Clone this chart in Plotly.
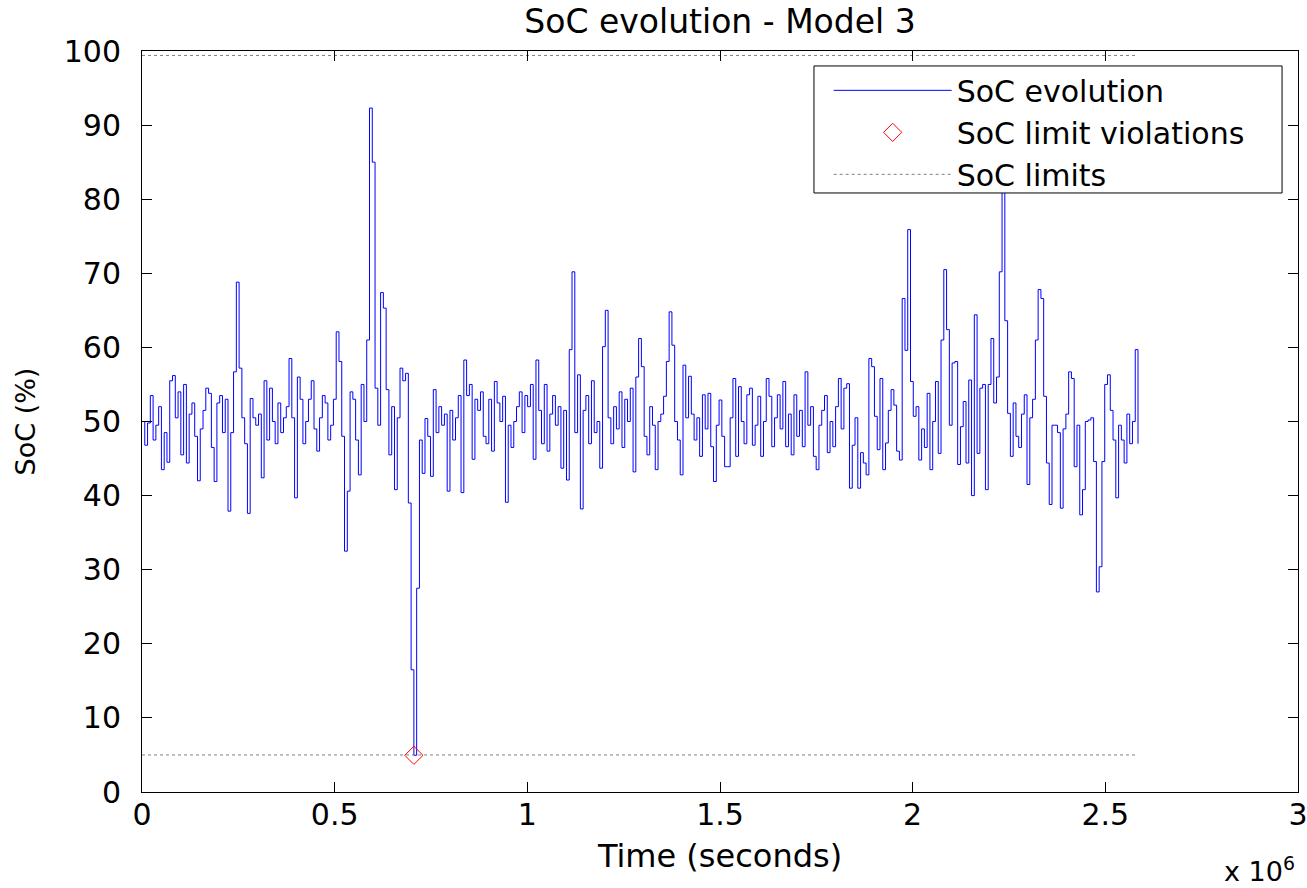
import plotly.graph_objects as go

# SoC samples, one every 2 hours
STEP_S = 7200
soc = [
    50.0, 46.8, 49.8, 53.5, 47.5, 49.5, 52.0, 43.5, 48.5, 44.5,
    55.5, 56.2, 50.5, 54.0, 45.5, 55.0, 44.4, 51.0, 52.5, 48.0,
    42.0, 49.0, 51.5, 54.5, 53.8, 46.5, 41.9, 52.5, 53.5, 48.5,
    53.0, 37.9, 48.5, 56.7, 68.8, 57.2, 50.5, 47.0, 37.6, 53.1,
    50.5, 49.5, 51.0, 42.4, 55.5, 47.5, 54.5, 50.0, 47.0, 52.5,
    48.5, 50.5, 52.0, 58.5, 50.5, 39.7, 56.0, 53.0, 47.0, 50.0,
    53.0, 55.5, 49.0, 46.0, 50.5, 53.5, 52.5, 47.5, 49.5, 53.0,
    62.1, 58.1, 48.0, 32.5, 40.6, 54.0, 53.0, 47.5, 42.8, 55.0,
    50.0, 61.0, 92.3, 85.0, 54.5, 49.5, 67.4, 65.3, 54.3, 45.5,
    52.0, 40.8, 50.5, 57.2, 55.5, 56.5, 39.0, 16.5, 4.95, 27.5,
    47.5, 43.0, 50.4, 48.0, 42.6, 54.3, 48.5, 52.0, 49.5, 51.0,
    40.6, 51.5, 47.5, 50.5, 53.5, 40.4, 58.3, 53.5, 55.0, 44.9,
    53.0, 51.5, 54.0, 48.0, 47.0, 53.0, 46.0, 55.4, 52.5, 50.0,
    53.4, 39.1, 49.5, 46.5, 50.0, 52.0, 54.0, 48.5, 53.5, 52.0,
    55.0, 44.9, 58.3, 51.5, 47.0, 55.0, 46.0, 51.0, 53.5, 49.5,
    52.0, 43.7, 51.5, 42.1, 59.7, 70.2, 48.5, 56.3, 38.2, 51.5,
    53.5, 47.0, 55.5, 48.5, 50.0, 43.7, 60.1, 65.0, 50.5, 47.0,
    52.0, 49.0, 54.0, 46.5, 53.0, 50.0, 54.5, 43.2, 56.0, 61.2,
    57.4, 48.0, 45.5, 52.0, 49.5, 43.5, 50.0, 51.0, 53.4, 58.1,
    64.8, 60.3, 50.0, 47.5, 42.8, 57.6, 50.5, 56.1, 51.0, 47.5,
    50.5, 45.3, 53.6, 49.0, 53.8, 46.6, 41.9, 49.5, 52.9, 48.0,
    43.9, 43.9, 50.5, 55.8, 45.3, 54.7, 50.0, 47.0, 53.6, 54.5,
    46.8, 49.5, 53.4, 45.3, 50.0, 55.8, 53.4, 46.6, 50.5, 53.6,
    49.0, 55.4, 46.6, 51.0, 45.5, 53.6, 48.0, 51.5, 46.6, 56.7,
    49.5, 52.0, 45.3, 43.5, 49.5, 51.5, 53.5, 45.8, 50.0, 46.6,
    52.0, 55.8, 49.0, 54.5, 55.1, 41.0, 46.8, 50.5, 41.0, 45.8,
    44.4, 42.8, 58.5, 57.4, 50.7, 46.2, 55.8, 43.5, 47.1, 51.5,
    54.3, 52.2, 46.0, 44.8, 66.6, 59.6, 75.9, 55.4, 50.7, 52.0,
    44.8, 49.0, 46.5, 53.8, 43.5, 50.0, 55.4, 45.7, 61.0, 70.5,
    62.4, 49.5, 57.9, 58.1, 44.2, 49.3, 52.7, 44.4, 55.6, 40.0,
    64.4, 45.7, 54.5, 55.0, 40.8, 55.0, 61.2, 52.5, 56.0, 70.2,
    85.0, 63.6, 51.1, 45.3, 52.5, 48.0, 46.5, 51.0, 53.6, 41.5,
    50.5, 53.0, 61.0, 67.8, 66.6, 53.4, 44.4, 38.8, 49.5, 49.5,
    48.5, 38.3, 49.0, 51.0, 56.7, 55.8, 43.9, 49.5, 37.4, 40.8,
    50.0, 50.2, 50.5, 44.6, 27.0, 30.4, 44.6, 55.0, 56.3, 51.5,
    47.5, 39.7, 49.5, 47.5, 44.4, 51.0, 47.0, 50.0, 59.7, 47.0,
]
times = [i * STEP_S for i in range(len(soc))]

soc_min = 5.0
soc_max = 99.4

violation_time = [705600]
violation_soc = [4.95]

x_tickvals = [0, 0.5e6, 1e6, 1.5e6, 2e6, 2.5e6, 3e6]
x_ticktext = ["0", "0.5", "1", "1.5", "2", "2.5", "3"]
y_tickvals = [0, 10, 20, 30, 40, 50, 60, 70, 80, 90, 100]

FONT = "DejaVu Sans"

fig = go.Figure()
fig.add_trace(go.Scatter(
    x=times, y=soc, name="SoC evolution", mode="lines",
    line=dict(color="#0000ff", width=1, shape="hv"),
))
fig.add_trace(go.Scatter(
    x=violation_time, y=violation_soc, name="SoC limit violations", mode="markers",
    marker=dict(symbol="diamond-open", size=14, color="#ff0000", line=dict(width=1)),
))
fig.add_trace(go.Scatter(
    x=[times[0], times[-1], None, times[0], times[-1]],
    y=[soc_min, soc_min, None, soc_max, soc_max],
    name="SoC limits", mode="lines",
    line=dict(color="#808080", width=1, dash="dot"),
))

axis_common = dict(
    showgrid=False, zeroline=False, showline=True, linecolor="black", linewidth=1,
    mirror="ticks", ticks="inside", ticklen=10, tickcolor="black", automargin=False,
    ticklabeloverflow="allow",
    tickfont=dict(family=FONT, size=30, color="black"),
)

fig.update_layout(
    width=1307, height=888,
    margin=dict(l=142, r=9, t=51, b=96, autoexpand=False),
    paper_bgcolor="white", plot_bgcolor="white",
    font=dict(family=FONT, color="black"),
    title=dict(text="SoC evolution - Model 3", x=0.5, xref="paper", xanchor="center",
               y=1 - 21 / 888, yanchor="middle", font=dict(family=FONT, size=33)),
    xaxis=dict(range=[0, 3e6], tickvals=x_tickvals, ticktext=x_ticktext,
               ticklabelstandoff=-4,
               title=dict(text="Time (seconds)", font=dict(family=FONT, size=32), standoff=13),
               **axis_common),
    yaxis=dict(range=[0, 100], tickvals=y_tickvals, ticklabelstandoff=14,
               title=dict(text="SoC (%)", font=dict(family=FONT, size=27), standoff=20),
               **axis_common),
    legend=dict(x=0.594, y=0.982, xanchor="left", yanchor="top",
                bgcolor="rgba(0,0,0,0)", borderwidth=0,
                itemwidth=118, font=dict(family=FONT, size=30), tracegroupgap=0),
    showlegend=True,
    # legend frame, drawn over the data like the reference
    shapes=[dict(type="rect", xref="paper", yref="paper", layer="above",
                 x0=0.5813, x1=0.9862, y0=0.8084, y1=0.9798,
                 fillcolor="white", line=dict(color="black", width=1))],
    annotations=[dict(text="x 10<sup>6</sup>", xref="paper", yref="paper",
                      x=0.999, y=-0.104, xanchor="right", yanchor="middle", showarrow=False,
                      font=dict(family=FONT, size=27))],
)

# drop the browser's default 8px page margin so the figure sits at 0,0
fig.write_html("out.html", config={"displayModeBar": False},
               post_script="document.body.style.margin='0';")
